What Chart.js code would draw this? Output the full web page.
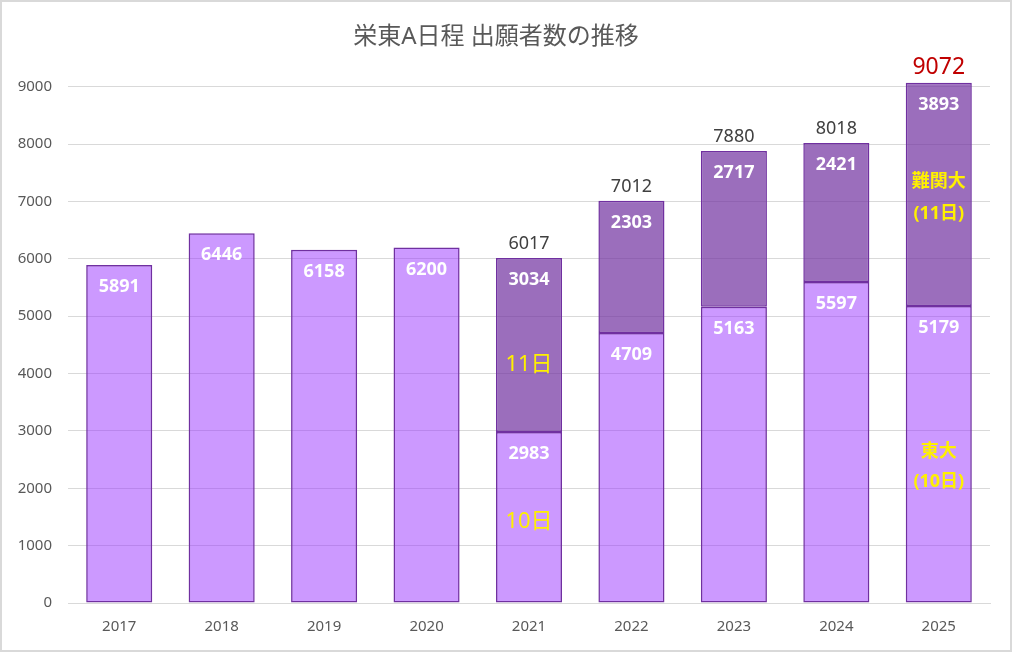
<!DOCTYPE html>
<html lang="ja">
<head>
<meta charset="UTF-8">
<title>栄東A日程 出願者数の推移</title>
<script src="https://cdn.jsdelivr.net/npm/chart.js"></script>
<style>
  html, body { margin: 0; padding: 0; background: #fff; }
  #box { position: absolute; left: 0; top: 0; width: 1012px; height: 652px; box-sizing: border-box; border: 2px solid #d9d9d9; background: #fff; }
  #myChart { display: block; }
</style>
</head>
<body>
<div id="box"><canvas id="myChart" width="1008" height="648"></canvas></div>
<script>
// data
const years = ['2017', '2018', '2019', '2020', '2021', '2022', '2023', '2024', '2025'];
const day10 = [5891, 6446, 6158, 6200, 2983, 4709, 5163, 5597, 5179];
const day11 = [0, 0, 0, 0, 3034, 2303, 2717, 2421, 3893];
const yTicks = [0, 1000, 2000, 3000, 4000, 5000, 6000, 7000, 8000, 9000];

const totals = years.map((y, i) => day10[i] + day11[i]);

const FONT = "'Noto Sans', 'Noto Sans CJK JP', sans-serif";
Chart.defaults.font.family = FONT;

const labelPlugin = {
  id: 'labels',
  afterDatasetsDraw(chart) {
    const ctx = chart.ctx;
    const ys = chart.scales.y;
    const lower = chart.getDatasetMeta(0).data;
    const upper = chart.getDatasetMeta(1).data;
    ctx.save();
    ctx.textAlign = 'center';
    ctx.textBaseline = 'middle';
    for (let i = 0; i < years.length; i++) {
      ctx.fillStyle = '#ffffff';
      ctx.font = "bold 18px " + FONT;
      ctx.fillText(String(day10[i]), lower[i].x, lower[i].y + 22);
      if (day11[i] > 0) {
        ctx.fillText(String(day11[i]), upper[i].x, upper[i].y + 22);
        const last = i === years.length - 1;
        ctx.fillStyle = last ? '#c00000' : '#404040';
        ctx.font = (last ? "23px " : "18px ") + FONT;
        ctx.fillText(String(totals[i]), upper[i].x, upper[i].y - (last ? 15 : 14));
      }
    }
    // notes inside bars
    ctx.fillStyle = '#fff000';
    const x21 = lower[4].x, x25 = lower[8].x;
    ctx.font = "22px " + FONT;
    ctx.fillText('11日', x21, ys.getPixelForValue(4150));
    ctx.fillText('10日', x21, ys.getPixelForValue(1410));
    ctx.font = "bold 18px " + FONT;
    ctx.fillText('難関大', x25, ys.getPixelForValue(7340));
    ctx.fillText('(11日)', x25, ys.getPixelForValue(6780));
    ctx.fillText('東大', x25, ys.getPixelForValue(2640));
    ctx.fillText('(10日)', x25, ys.getPixelForValue(2120));
    ctx.restore();
  }
};

const ctx = document.getElementById('myChart').getContext('2d');
const chart = new Chart(ctx, {
  type: 'bar',
  data: {
    labels: years,
    datasets: [{
      label: '10日',
      data: day10,
      backgroundColor: 'rgba(153, 51, 255, 0.5)',
      borderColor: '#7030a0',
      borderWidth: 1.5,
      borderSkipped: false,
      barPercentage: 0.645,
      categoryPercentage: 1,
      clip: false
    }, {
      label: '11日',
      data: day11,
      backgroundColor: 'rgba(112, 48, 160, 0.7)',
      borderColor: '#7030a0',
      borderWidth: 1.5,
      borderSkipped: false,
      barPercentage: 0.645,
      categoryPercentage: 1,
      clip: false
    }]
  },
  options: {
    responsive: false,
    animation: false,
    layout: { padding: { right: 20 } },
    scales: {
      x: {
        stacked: true,
        grid: { display: false, drawTicks: false },
        border: { color: '#d9d9d9', width: 1 },
        ticks: { color: '#595959', font: { size: 15 }, padding: 15, maxRotation: 0, autoSkip: false },
        afterFit(s) { s.height = 47; }
      },
      y: {
        stacked: true,
        min: 0,
        max: 9000,
        afterBuildTicks(s) { s.ticks = yTicks.map(v => ({ value: v })); },
        grid: { color: '#d9d9d9', lineWidth: 1, drawTicks: false },
        border: { display: false },
        ticks: { color: '#595959', font: { size: 15 }, padding: 16, callback: v => String(v) },
        afterFit(s) { s.width = 66; }
      }
    },
    plugins: {
      legend: { display: false },
      tooltip: { enabled: false },
      title: {
        display: true,
        text: '栄東A日程 出願者数の推移',
        color: '#595959',
        font: { size: 24, weight: 'normal' },
        padding: { top: 21, bottom: 35 }
      }
    }
  },
  plugins: [labelPlugin]
});
</script>
</body>
</html>
